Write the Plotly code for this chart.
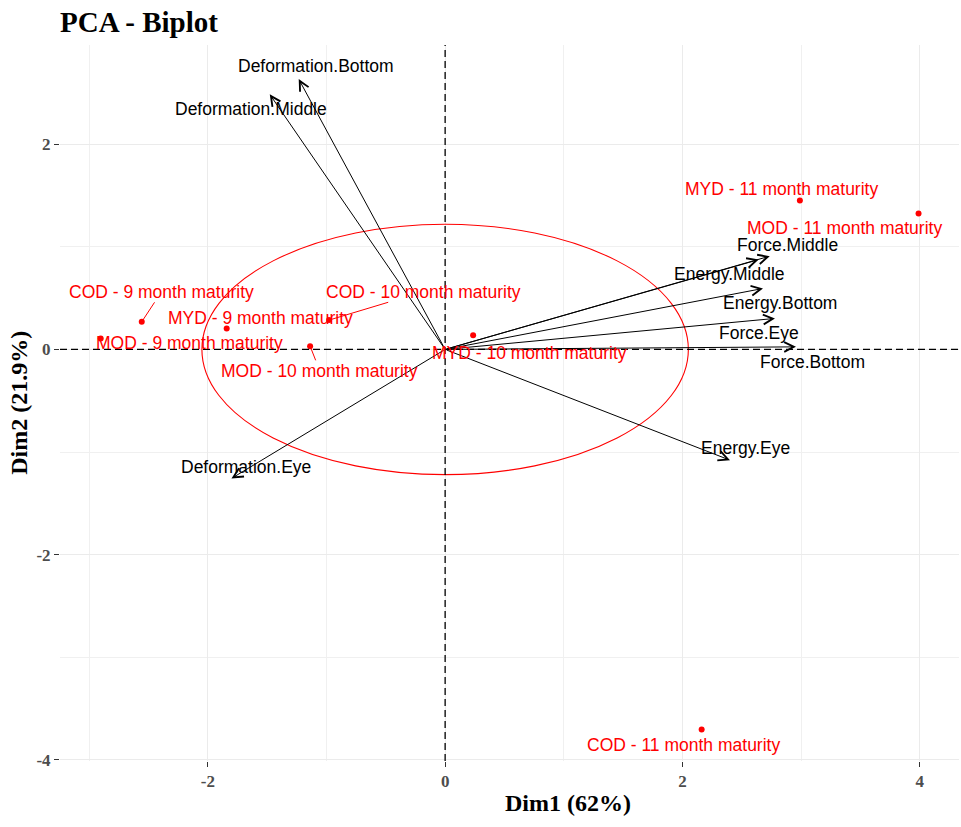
import plotly.graph_objects as go

# Individuals: coordinates on the first two principal components
individuals = [
    "COD - 9 month maturity", "MOD - 9 month maturity", "MYD - 9 month maturity",
    "COD - 10 month maturity", "MOD - 10 month maturity", "MYD - 10 month maturity",
    "COD - 11 month maturity", "MOD - 11 month maturity", "MYD - 11 month maturity",
]
ind_dim1 = [-2.557, -2.903, -1.841, -0.978, -1.138, 0.236, 2.162, 3.990, 2.990]
ind_dim2 = [0.269, 0.107, 0.205, 0.286, 0.032, 0.139, -3.704, 1.325, 1.452]

# Variables: loading arrows
variables = [
    "Deformation.Bottom", "Deformation.Middle", "Deformation.Eye",
    "Force.Middle", "Energy.Middle", "Energy.Bottom",
    "Force.Eye", "Force.Bottom", "Energy.Eye",
]
var_dim1 = [-1.234, -1.478, -1.801, 2.736, 2.643, 2.679, 2.780, 2.957, 2.401]
var_dim2 = [2.634, 2.485, -1.257, 0.909, 0.875, 0.594, 0.302, 0.025, -1.079]

# Concentration ellipse (centre and semi-axes)
ellipse_centre = (0.0, 0.0)
ellipse_radii = (2.05, 1.22)

x_ticks = [-2, 0, 2, 4]
x_tick_labels = ["-2", "0", "2", "4"]
y_ticks = [-4, -2, 0, 2]
y_tick_labels = ["-4", "-2", "0", "2"]

# Label placement (pixel offsets from the mark; second value positive = down)
ind_label_offset = [(19.7, -30), (88.7, 5), (33.5, -10), (94, -28.3), (9.7, 24.7),
                    (56.7, 18.3), (-17.9, 15.7), (-74.2, 15), (-18.3, -11.3)]
ind_leader = [True, False, False, True, True, False, False, False, False]
var_label_offset = [(17, -12.7), (-19.2, 15), (14.8, -11.6), (18.2, -11), (-28.8, 14.5),
                    (16.7, 15), (-16.2, 15), (16.5, 15), (15, -11.7)]

RED = "#FF0000"
SANS = "Arial, Liberation Sans, sans-serif"
SERIF = "Times New Roman, Liberation Serif, serif"
LABEL_SIZE = 17.5

fig = go.Figure()

fig.add_trace(go.Scatter(
    x=ind_dim1, y=ind_dim2, mode="markers",
    marker=dict(color=RED, size=6), hoverinfo="text", text=individuals,
    showlegend=False,
))

annotations = []

# Loading arrows from the origin
for name, vx, vy in zip(variables, var_dim1, var_dim2):
    annotations.append(dict(
        x=vx, y=vy, xref="x", yref="y", ax=0, ay=0, axref="x", ayref="y",
        text="", showarrow=True, arrowhead=5, arrowsize=1.9, arrowwidth=1,
        arrowcolor="black", standoff=0, startstandoff=0,
    ))

# Variable labels
for name, vx, vy, (dx, dy) in zip(variables, var_dim1, var_dim2, var_label_offset):
    annotations.append(dict(
        x=vx, y=vy, xref="x", yref="y", text=name, showarrow=False,
        xshift=dx, yshift=-dy, font=dict(family=SANS, size=LABEL_SIZE, color="black"),
    ))

# Individual labels, some with leader lines
for name, px, py, (dx, dy), lead in zip(individuals, ind_dim1, ind_dim2,
                                        ind_label_offset, ind_leader):
    if lead:
        annotations.append(dict(
            x=px, y=py, xref="x", yref="y", text=name, showarrow=True,
            ax=dx, ay=dy, arrowhead=0, arrowwidth=1, arrowcolor=RED,
            standoff=2, borderpad=0,
            font=dict(family=SANS, size=LABEL_SIZE, color=RED),
        ))
    else:
        annotations.append(dict(
            x=px, y=py, xref="x", yref="y", text=name, showarrow=False,
            xshift=dx, yshift=-dy, font=dict(family=SANS, size=LABEL_SIZE, color=RED),
        ))

# Axis titles
annotations.append(dict(
    text="<b>Dim1 (62%)</b>", xref="paper", yref="paper", x=0.565, y=-0.0585,
    xanchor="center", yanchor="middle", showarrow=False,
    font=dict(family=SERIF, size=24, color="black"),
))
annotations.append(dict(
    text="<b>Dim2 (21.9%)</b>", xref="paper", yref="paper", x=-0.0458, y=0.5,
    xanchor="center", yanchor="middle", showarrow=False, textangle=-90,
    font=dict(family=SERIF, size=24, color="black"),
))

shapes = [
    dict(type="circle", xref="x", yref="y",
         x0=ellipse_centre[0] - ellipse_radii[0], x1=ellipse_centre[0] + ellipse_radii[0],
         y0=ellipse_centre[1] - ellipse_radii[1], y1=ellipse_centre[1] + ellipse_radii[1],
         line=dict(color=RED, width=1.1), layer="above"),
    dict(type="line", xref="x", yref="y domain", x0=0, x1=0, y0=0, y1=1,
         line=dict(color="black", width=1.3, dash="7px,4px")),
    dict(type="line", xref="x domain", yref="y", x0=0, x1=1, y0=0, y1=0,
         line=dict(color="black", width=1.3, dash="7px,4px")),
]

axis_common = dict(
    showgrid=True, gridcolor="#EBEBEB", gridwidth=1, zeroline=False,
    showline=False, ticks="outside", ticklen=5, tickwidth=1.2, tickcolor="#333333",
    tickfont=dict(family=SERIF, size=17, color="#4D4D4D", weight="bold"),
    minor=dict(showgrid=True, gridcolor="#F0F0F0", gridwidth=1, dtick=1, tick0=1),
    fixedrange=True,
)

fig.update_layout(
    width=961, height=827,
    margin=dict(l=60, r=2, t=45, b=66),
    paper_bgcolor="white", plot_bgcolor="white",
    title=dict(text="<b>PCA - Biplot</b>", xref="paper", x=0.0, xanchor="left",
               yref="container", y=1 - 22 / 827, yanchor="middle",
               font=dict(family=SERIF, size=29, color="black")),
    xaxis=dict(range=[-3.246, 4.331], tickvals=x_ticks, ticktext=x_tick_labels,
               **axis_common),
    yaxis=dict(range=[-4.01, 2.966], tickvals=y_ticks, ticktext=y_tick_labels,
               **axis_common),
    annotations=annotations, shapes=shapes, showlegend=False,
)

fig.write_html("out.html")
